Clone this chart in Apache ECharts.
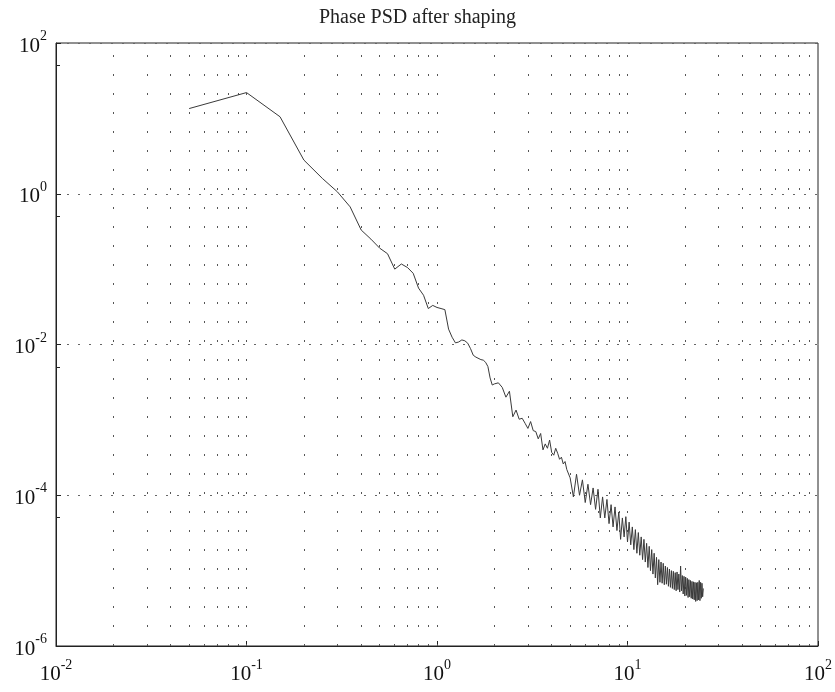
<!DOCTYPE html>
<html><head><meta charset="utf-8">
<script src="https://cdn.jsdelivr.net/npm/echarts@6/dist/echarts.min.js"></script>
<style>html,body{margin:0;padding:0;background:#fff}#c{width:835px;height:692px}</style>
</head><body><div id="c"></div>
<script>
const titleText = 'Phase PSD after shaping';

const freqHz = [
  0.05, 0.10, 0.15, 0.20, 0.25, 0.30, 0.35, 0.40, 0.45, 0.50,
  0.55, 0.60, 0.65, 0.70, 0.75, 0.80, 0.85, 0.90, 0.95, 1.00,
  1.05, 1.10, 1.15, 1.20, 1.25, 1.30, 1.35, 1.40, 1.45, 1.50,
  1.55, 1.60, 1.70, 1.75, 1.80, 1.85, 1.90, 1.95, 2.0, 2.1,
  2.2, 2.3, 2.4, 2.5, 2.6, 2.7, 2.8, 2.9, 3.0, 3.1,
  3.2, 3.3, 3.4, 3.5, 3.6, 3.7, 3.8, 3.9, 4.0, 4.1,
  4.2, 4.3, 4.4, 4.5, 4.6, 4.7, 4.8, 4.9,
  5.0, 5.2, 5.4, 5.6, 5.8, 6.0, 6.2, 6.4, 6.6, 6.8,
  7.0, 7.2, 7.4, 7.6, 7.8, 8.0, 8.2, 8.4, 8.6, 8.8,
  9.0, 9.2, 9.4, 9.6, 9.8, 10.0, 10.2, 10.4, 10.6, 10.8,
  11.0, 11.2, 11.4, 11.6, 11.8, 12.0, 12.2, 12.4, 12.6, 12.8,
  13.0, 13.2, 13.4, 13.6, 13.8, 14.0, 14.2, 14.4, 14.6, 14.8,
  15.0, 15.2, 15.4, 15.6, 15.8, 16.0, 16.2, 16.4, 16.6, 16.8,
  17.0, 17.2, 17.4, 17.6, 17.8, 18.0, 18.2, 18.4, 18.6, 18.8,
  19.0, 19.2, 19.4, 19.6, 19.8, 20.0, 20.2, 20.4, 20.6, 20.8,
  21.0, 21.2, 21.4, 21.6, 21.8, 22.0, 22.2, 22.4, 22.6, 22.8,
  23.0, 23.2, 23.4, 23.6, 23.8, 24.0, 24.2, 24.4, 24.6, 24.8,
  25.0
];

const psd = [
  13.5, 22, 10.5, 2.8, 1.6, 1.06, 0.67, 0.33, 0.25, 0.19,
  0.16, 0.10, 0.117, 0.105, 0.088, 0.056, 0.045, 0.030, 0.033, 0.031,
  0.030, 0.029, 0.016, 0.0125, 0.0105, 0.0108, 0.0115, 0.0112, 0.0104, 0.0088,
  0.0072, 0.0068, 0.0063, 0.0062, 0.0058, 0.0051, 0.0036, 0.0029, 0.0030, 0.0031,
  0.0027, 0.0020, 0.0024, 0.0011, 0.00135, 0.00102, 0.00105, 0.0009, 0.00077, 0.00095,
  0.00072, 0.0007, 0.00056, 0.00066, 0.0004, 0.00048, 0.00042, 0.00054, 0.00037, 0.00034,
  0.00042, 0.00036, 0.0003, 0.00032, 0.00026, 0.00028, 0.00022, 0.00021,
  1.7e-4, 9.5e-5, 1.9e-4, 1.0e-4, 1.6e-4, 8.0e-5, 1.4e-4, 7.5e-5, 1.25e-4, 6.5e-5,
  1.2e-4, 5.0e-5, 9.5e-5, 5.0e-5, 8.8e-5, 4.2e-5, 7.5e-5, 3.8e-5, 7.0e-5, 3.4e-5,
  6.0e-5, 2.6e-5, 5.0e-5, 2.8e-5, 5.2e-5, 2.4e-5, 4.4e-5, 2.2e-5, 3.8e-5, 1.9e-5,
  3.5e-5, 1.7e-5, 3.2e-5, 1.6e-5, 2.8e-5, 1.4e-5, 2.6e-5, 1.3e-5, 2.3e-5, 1.1e-5,
  2.1e-5, 1.0e-5, 1.9e-5, 9.0e-6, 1.7e-5, 8.0e-6, 1.5e-5, 6.5e-6, 1.4e-5, 7.0e-6,
  1.3e-5, 6.8e-6, 1.25e-5, 6.5e-6, 1.15e-5, 6.6e-6, 1.1e-5, 6.2e-6, 1.05e-5, 6.0e-6,
  1.0e-5, 5.8e-6, 9.8e-6, 5.6e-6, 9.4e-6, 5.4e-6, 9.6e-6, 5.6e-6, 9.0e-6, 5.2e-6,
  1.15e-5, 5.4e-6, 8.6e-6, 4.9e-6, 8.4e-6, 4.6e-6, 8.2e-6, 4.7e-6, 7.9e-6, 4.4e-6,
  7.6e-6, 4.5e-6, 7.4e-6, 4.3e-6, 7.2e-6, 4.2e-6, 7.1e-6, 4.1e-6, 7.0e-6, 3.9e-6,
  6.9e-6, 4.0e-6, 7.0e-6, 4.1e-6, 7.4e-6, 4.0e-6, 7.0e-6, 4.3e-6, 6.8e-6, 4.5e-6,
  5.8e-6
];

// vertical (minor + major) grid positions on the log x axis
const xGridValues = [
  0.02, 0.03, 0.04, 0.05, 0.06, 0.07, 0.08, 0.09, 0.1,
  0.2, 0.3, 0.4, 0.5, 0.6, 0.7, 0.8, 0.9, 1,
  2, 3, 4, 5, 6, 7, 8, 9, 10,
  20, 30, 40, 50, 60, 70, 80, 90
];

const xMin = 0.01, xMax = 100;
const yMin = 1e-6, yMax = 100;

const data = freqHz.map((f, i) => [f, psd[i]]);

function expLabel(v) {
  const e = Math.round(Math.log10(v));
  return '{b|10}{e|' + e + '}';
}

const labelRich = {
  b: { fontFamily: 'Liberation Serif', fontSize: 21, color: '#111', verticalAlign: 'bottom', lineHeight: 27 },
  e: { fontFamily: 'Liberation Serif', fontSize: 14, color: '#111', verticalAlign: 'top', lineHeight: 14 }
};

const chart = echarts.init(document.getElementById('c'), null, { renderer: 'canvas' });
chart.setOption({
  animation: false,
  backgroundColor: '#fff',
  title: {
    text: titleText,
    left: 'center',
    top: 3,
    textStyle: { fontFamily: 'Liberation Serif', fontSize: 20, fontWeight: 'normal', color: '#222' }
  },
  grid: {
    left: 56, right: 15, top: 43, bottom: 46,
    show: true, borderColor: '#222', borderWidth: 1, backgroundColor: 'transparent'
  },
  xAxis: {
    type: 'log', logBase: 10, min: xMin, max: xMax, interval: 1,
    axisLine: { show: true, lineStyle: { color: '#222', width: 1 } },
    axisTick: { show: true, inside: true, length: 5, lineStyle: { color: '#222' } },
    splitLine: { show: false },
    axisLabel: { formatter: expLabel, rich: labelRich, margin: 12 }
  },
  yAxis: {
    type: 'log', logBase: 10, min: yMin, max: yMax, interval: 2,
    axisLine: { show: true, lineStyle: { color: '#222', width: 1 } },
    axisTick: { show: true, inside: true, length: 5, lineStyle: { color: '#222' } },
    minorTick: { show: true, splitNumber: 2, length: 4, lineStyle: { color: '#222' } },
    splitLine: { show: true, lineStyle: { color: '#666', width: 1, type: [2, 9] } },
    axisLabel: { formatter: expLabel, rich: labelRich, margin: 9 }
  },
  series: [{
    type: 'line',
    data: data,
    showSymbol: false,
    symbol: 'none',
    lineStyle: { color: '#3a3a3a', width: 1 },
    z: 5,
    markLine: {
      silent: true,
      symbol: ['none', 'none'],
      label: { show: false },
      animation: false,
      lineStyle: { color: '#555', width: 1, type: [2, 17] },
      data: xGridValues.map(v => ({ xAxis: v }))
    }
  }]
});
</script>
</body></html>
